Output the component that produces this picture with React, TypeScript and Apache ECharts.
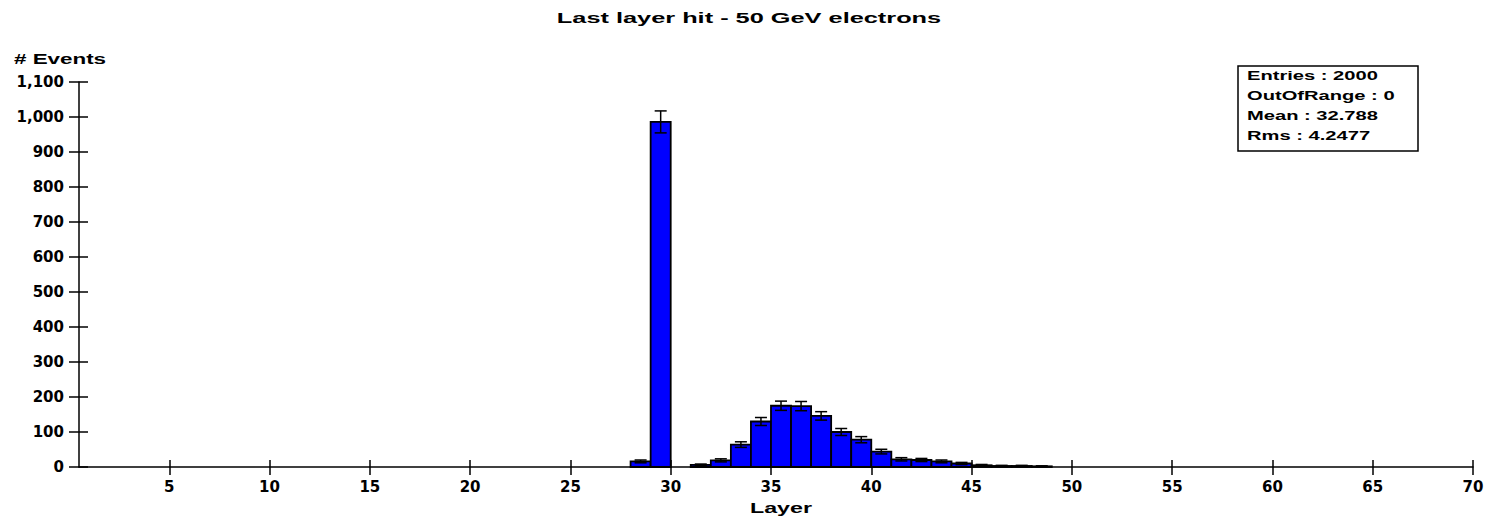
import React, { useEffect, useRef } from "react";
import * as echarts from "echarts";

const titleText = "Last layer hit - 50 GeV electrons";
const xAxisName = "Layer";
const yAxisName = "# Events";
const statsLines = ["Entries : 2000", "OutOfRange : 0", "Mean : 32.788", "Rms : 4.2477"];

// histogram bins: layer = left edge of bin [layer, layer+1)
const layers = [28, 29, 31, 32, 33, 34, 35, 36, 37, 38, 39, 40, 41, 42, 43, 44, 45, 46, 47, 48];
const counts = [16, 986, 6, 19, 64, 130, 175, 174, 146, 100, 78, 44, 22, 20, 16, 10, 5, 3, 3, 2];

const xTickValues = [5, 10, 15, 20, 25, 30, 35, 40, 45, 50, 55, 60, 65, 70];
const xMin = 0.5;
const xMax = 70;
const yMin = 0;
const yMax = 1100;
const yStep = 100;

const textFont = (size: number) => `bold ${size}px "Liberation Sans", Arial, sans-serif`;

export default function App() {
  const ref = useRef<HTMLDivElement>(null);

  useEffect(() => {
    if (!ref.current) return;
    const chart = echarts.init(ref.current, null, { renderer: "svg" });
    const data = layers.map((l, i) => [l, counts[i]]);
    const black = "#000";
    const tickLabel = {
      color: black,
      fontWeight: "bold" as const,
      fontSize: 15,
      fontFamily: "DejaVu Sans",
    };

    chart.setOption({
      animation: false,
      backgroundColor: "#fff",
      grid: { left: 79, right: 18, top: 82, bottom: 55, containLabel: false },
      xAxis: [
        {
          type: "value",
          min: xMin,
          max: xMax,
          position: "bottom",
          axisLine: { show: true, onZero: false, lineStyle: { color: black, width: 1.5 } },
          axisTick: { show: true, customValues: xTickValues, length: 8, lineStyle: { color: black, width: 1.5 } },
          axisLabel: { ...tickLabel, customValues: xTickValues, margin: 12 },
          splitLine: { show: false },
        },
        {
          type: "value",
          min: xMin,
          max: xMax,
          position: "bottom",
          axisLine: { show: false, onZero: false },
          axisTick: { show: true, inside: true, customValues: xTickValues, length: 7, lineStyle: { color: black, width: 1.5 } },
          axisLabel: { show: false, customValues: xTickValues },
          splitLine: { show: false },
        },
      ],
      yAxis: [
        {
          type: "value",
          min: yMin,
          max: yMax,
          interval: yStep,
          position: "left",
          axisLine: { show: true, onZero: false, lineStyle: { color: black, width: 1.5 } },
          axisTick: { show: true, length: 10, lineStyle: { color: black, width: 1.5 } },
          axisLabel: {
            ...tickLabel,
            margin: 15,
            formatter: (v: number) => v.toLocaleString("en-US"),
          },
          splitLine: { show: false },
        },
        {
          type: "value",
          min: yMin,
          max: yMax,
          interval: yStep,
          position: "left",
          axisLine: { show: false, onZero: false },
          axisTick: { show: true, inside: true, length: 9, lineStyle: { color: black, width: 1.5 } },
          axisLabel: { show: false },
          splitLine: { show: false },
        },
      ],
      series: [
        {
          type: "custom",
          xAxisIndex: 0,
          yAxisIndex: 0,
          data,
          encode: { x: 0, y: 1 },
          renderItem: (params: any, api: any) => {
            const x = api.value(0);
            const y = api.value(1);
            const p0 = api.coord([x, 0]);
            const p1 = api.coord([x + 1, y]);
            const err = Math.sqrt(y);
            const top = api.coord([x + 0.5, y + err]);
            const bot = api.coord([x + 0.5, Math.max(0, y - err)]);
            const cap = 6;
            const ls = { stroke: black, lineWidth: 1.5 };
            return {
              type: "group",
              children: [
                {
                  type: "rect",
                  shape: { x: p0[0], y: p1[1], width: p1[0] - p0[0], height: p0[1] - p1[1] },
                  style: { fill: "#0000ff", stroke: black, lineWidth: 1.8 },
                },
                { type: "line", shape: { x1: top[0], y1: top[1], x2: bot[0], y2: bot[1] }, style: ls },
                { type: "line", shape: { x1: top[0] - cap, y1: top[1], x2: top[0] + cap, y2: top[1] }, style: ls },
                { type: "line", shape: { x1: bot[0] - cap, y1: bot[1], x2: bot[0] + cap, y2: bot[1] }, style: ls },
              ],
            };
          },
        },
      ],
      graphic: [
        {
          type: "text",
          x: 749,
          y: 18,
          scaleX: 1.69,
          style: { text: titleText, font: textFont(15), fill: black, align: "center", verticalAlign: "middle" },
        },
        {
          type: "text",
          x: 14,
          y: 59,
          scaleX: 1.6,
          style: { text: yAxisName, font: textFont(14), fill: black, align: "left", verticalAlign: "middle" },
        },
        {
          type: "text",
          x: 781,
          y: 508,
          scaleX: 1.55,
          style: { text: xAxisName, font: textFont(15), fill: black, align: "center", verticalAlign: "middle" },
        },
        {
          type: "rect",
          shape: { x: 1238, y: 66, width: 180, height: 85 },
          style: { fill: "#fff", stroke: black, lineWidth: 1.5 },
        },
        ...statsLines.map((t, i) => ({
          type: "text",
          x: 1247,
          y: 76 + i * 20,
          scaleX: 1.55,
          style: { text: t, font: textFont(13), fill: black, align: "left", verticalAlign: "middle" },
        })),
      ],
    });

    return () => chart.dispose();
  }, []);

  return (
    <div
      ref={ref}
      style={{ position: "fixed", left: 0, top: 0, width: 1491, height: 522, background: "#fff" }}
    />
  );
}
